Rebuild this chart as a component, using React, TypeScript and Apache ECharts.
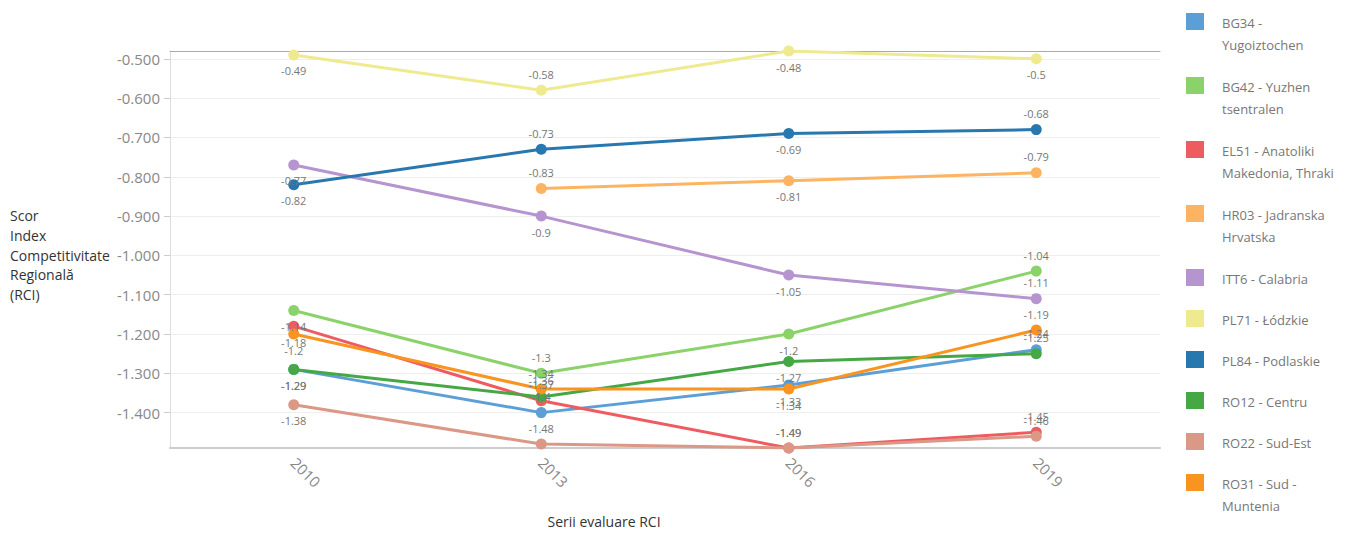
import React, { useEffect, useRef } from "react";
import * as echarts from "echarts";

const years = ["2010", "2013", "2016", "2019"];

const seriesNames = [
  "BG34 - Yugoiztochen",
  "BG42 - Yuzhen tsentralen",
  "EL51 - Anatoliki Makedonia, Thraki",
  "HR03 - Jadranska Hrvatska",
  "ITT6 - Calabria",
  "PL71 - Łódzkie",
  "PL84 - Podlaskie",
  "RO12 - Centru",
  "RO22 - Sud-Est",
  "RO31 - Sud - Muntenia",
];

// legend text as wrapped in the reference
const legendLabels = [
  "BG34 -\nYugoiztochen",
  "BG42 - Yuzhen\ntsentralen",
  "EL51 - Anatoliki\nMakedonia, Thraki",
  "HR03 - Jadranska\nHrvatska",
  "ITT6 - Calabria",
  "PL71 - Łódzkie",
  "PL84 - Podlaskie",
  "RO12 - Centru",
  "RO22 - Sud-Est",
  "RO31 - Sud -\nMuntenia",
];

const bg34 = [-1.29, -1.4, -1.33, -1.24];
const bg42 = [-1.14, -1.3, -1.2, -1.04];
const el51 = [-1.18, -1.37, -1.49, -1.45];
const hr03 = [null, -0.83, -0.81, -0.79];
const itt6 = [-0.77, -0.9, -1.05, -1.11];
const pl71 = [-0.49, -0.58, -0.48, -0.5];
const pl84 = [-0.82, -0.73, -0.69, -0.68];
const ro12 = [-1.29, -1.36, -1.27, -1.25];
const ro22 = [-1.38, -1.48, -1.49, -1.46];
const ro31 = [-1.2, -1.34, -1.34, -1.19];

const seriesValues = [bg34, bg42, el51, hr03, itt6, pl71, pl84, ro12, ro22, ro31];

const colors = [
  "#5B9FD6",
  "#8CD26B",
  "#EE5C61",
  "#FCB462",
  "#B694CF",
  "#EFEA90",
  "#2878B0",
  "#45A845",
  "#DC9886",
  "#F8941F",
];

// label side per point: t = above, b = below
const labelSides = [
  ["b", "t", "b", "t"],
  ["b", "t", "b", "t"],
  ["b", "t", "t", "t"],
  ["b", "t", "b", "t"],
  ["b", "b", "b", "t"],
  ["b", "t", "b", "b"],
  ["b", "t", "b", "t"],
  ["b", "t", "b", "t"],
  ["b", "t", "t", "t"],
  ["b", "t", "b", "t"],
];

const FONT = "'Open Sans', sans-serif";

export default function App() {
  const ref = useRef<HTMLDivElement>(null);

  useEffect(() => {
    if (!ref.current) return;
    const chart = echarts.init(ref.current, null, { renderer: "svg" });

    const series = seriesNames.map((name, si) => ({
      name,
      type: "line",
      data: seriesValues[si].map((v, i) =>
        v === null
          ? "-"
          : {
              value: v,
              label: { position: labelSides[si][i] === "t" ? "top" : "bottom" },
            }
      ),
      symbol: "circle",
      symbolSize: 11,
      showAllSymbol: true,
      lineStyle: { width: 3, color: colors[si] },
      itemStyle: { color: colors[si] },
      label: {
        show: true,
        color: "#777",
        fontSize: 11,
        fontFamily: FONT,
        distance: 5,
      },
      emphasis: { disabled: true },
    }));

    // custom legend (icon aligned with first text line)
    const legendGraphics: any[] = [];
    let y = 13;
    legendLabels.forEach((lab, i) => {
      const lines = lab.split("\n").length;
      legendGraphics.push({
        type: "rect",
        left: 1186,
        top: y,
        shape: { width: 18, height: 17 },
        style: { fill: colors[i] },
        silent: true,
      });
      legendGraphics.push({
        type: "text",
        left: 1222,
        top: y - 1,
        style: {
          text: lab,
          fill: "#777",
          fontSize: 13,
          fontFamily: FONT,
          lineHeight: 22,
        },
        silent: true,
      });
      y += 41 + 23 * (lines - 1);
    });

    chart.setOption({
      animation: false,
      backgroundColor: "#fff",
      color: colors,
      grid: { left: 170, right: 192, top: 51, bottom: 83, containLabel: false },
      xAxis: [
        {
          type: "category",
          data: years,
          boundaryGap: true,
          axisLine: { lineStyle: { color: "#ccc", width: 2 } },
          axisTick: { alignWithLabel: true, length: 7, lineStyle: { color: "#ccc" } },
          axisLabel: {
            rotate: -45,
            fontSize: 15,
            color: "#888",
            margin: 12,
            fontFamily: FONT,
          },
          name: "Serii evaluare RCI",
          nameLocation: "middle",
          nameGap: 66,
          nameTextStyle: {
            fontSize: 14,
            color: "#333",
            fontFamily: FONT,
            padding: [0, 122, 0, 0],
          },
        },
        {
          type: "category",
          data: years,
          position: "top",
          axisLine: { lineStyle: { color: "#aaa", width: 1 } },
          axisTick: { show: false },
          axisLabel: { show: false },
        },
      ],
      yAxis: {
        type: "value",
        min: "dataMin",
        max: "dataMax",
        splitNumber: 10,
        axisLine: { show: true, lineStyle: { color: "#ddd" } },
        axisTick: { show: true, length: 6, lineStyle: { color: "#ccc" } },
        splitLine: { lineStyle: { color: "#eee" } },
        axisLabel: {
          formatter: (v: number) => v.toFixed(3),
          showMinLabel: false,
          showMaxLabel: false,
          fontSize: 15,
          color: "#888",
          margin: 10,
          fontFamily: FONT,
        },
      },
      graphic: [
        {
          type: "text",
          left: 10,
          top: 206,
          style: {
            text: "Scor\nIndex\nCompetitivitate\nRegională\n(RCI)",
            fill: "#333",
            fontSize: 14,
            fontFamily: FONT,
            lineHeight: 19.6,
          },
          silent: true,
        },
        ...legendGraphics,
      ],
      series,
    });

    return () => chart.dispose();
  }, []);

  return (
    <div
      ref={ref}
      style={{ position: "fixed", left: 0, top: 0, width: 1352, height: 533, background: "#fff" }}
    />
  );
}
